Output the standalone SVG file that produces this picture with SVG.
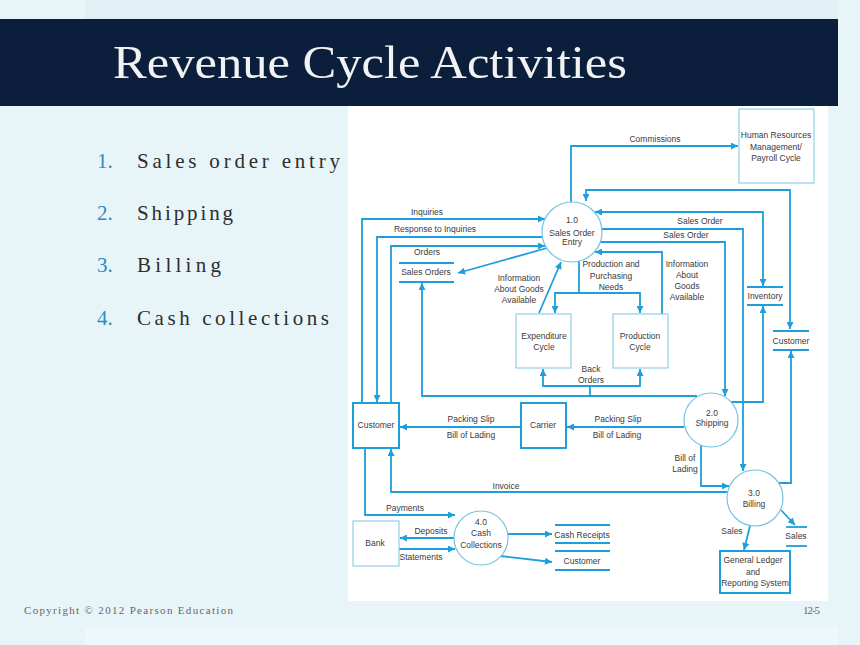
<svg xmlns="http://www.w3.org/2000/svg" width="860" height="645" viewBox="0 0 860 645">
<defs>
<style>
.t{font-family:"Liberation Sans",Arial,sans-serif;font-size:8.5px;fill:#3a3a3a;text-anchor:middle}
.c{fill:none;stroke:#1e9fdb;stroke-width:1.8}
.thin{fill:#fff;stroke:#8fd0e8;stroke-width:1.2}
.thick{fill:#fff;stroke:#1e9fdb;stroke-width:2}
.circ{fill:#fff;stroke:#74c4e2;stroke-width:1.2}
.ds{stroke:#1e9fdb;stroke-width:1.8}
.mono{font-family:"Liberation Serif","Times New Roman",serif}
</style>
<marker id="a" viewBox="0 0 10 10" refX="10" refY="5" markerWidth="9" markerHeight="7" markerUnits="userSpaceOnUse" orient="auto-start-reverse">
<path d="M0,0 L10,5 L0,10 z" fill="#1e9fdb"/>
</marker>
</defs>
<rect x="0" y="0" width="860" height="645" fill="#e8f5f8"/>
<rect x="85" y="0" width="753" height="19" fill="#e2f0f6"/>
<rect x="85" y="627" width="753" height="18" fill="#eef8fa"/>
<rect x="0" y="19" width="838" height="87" fill="#0b1f3c"/>
<text class="mono" x="113" y="78" font-size="46" fill="#f2f2f2" textLength="514" lengthAdjust="spacingAndGlyphs">Revenue Cycle Activities</text>
<g id="bullets" class="mono" font-size="21">
<text x="97" y="168" fill="#2e8bc0">1.</text><text x="137" y="168" fill="#2e2e2e" textLength="203" lengthAdjust="spacing">Sales order entry</text>
<text x="97" y="220" fill="#2e8bc0">2.</text><text x="137" y="220" fill="#2e2e2e" textLength="96" lengthAdjust="spacing">Shipping</text>
<text x="97" y="272" fill="#2e8bc0">3.</text><text x="137" y="272" fill="#2e2e2e" textLength="84" lengthAdjust="spacing">Billing</text>
<text x="97" y="325" fill="#2e8bc0">4.</text><text x="137" y="325" fill="#2e2e2e" textLength="192" lengthAdjust="spacing">Cash collections</text>
</g>
<text class="mono" x="24" y="614" font-size="11" fill="#666" textLength="209" lengthAdjust="spacing">Copyright © 2012  Pearson Education</text>
<text class="mono" x="803" y="614" font-size="11" fill="#666" textLength="17" lengthAdjust="spacing">12-5</text>
<rect x="348" y="106" width="480" height="495" fill="#fff"/>

<g id="connectors">
<path class="c" d="M571,202 V146 H738" marker-end="url(#a)"/>
<path class="c" d="M790,329 V190 H586 V201" marker-start="url(#a)" marker-end="url(#a)"/>
<path class="c" d="M763,286 V212 H595" marker-start="url(#a)" marker-end="url(#a)"/>
<path class="c" d="M601,229 H743 V471" marker-end="url(#a)"/>
<path class="c" d="M600,242 H725 V396" marker-end="url(#a)"/>
<path class="c" d="M579,261 V293 H555 V313" marker-end="url(#a)"/>
<path class="c" d="M579,293 H640 V313" marker-end="url(#a)"/>
<path class="c" d="M662,314 V252 H595" marker-end="url(#a)"/>
<path class="c" d="M539,313 L561,262" marker-end="url(#a)"/>
<path class="c" d="M547,248 L458,273" marker-end="url(#a)"/>
<path class="c" d="M362,403 V219 H545" marker-end="url(#a)"/>
<path class="c" d="M542,237 H377 V402" marker-end="url(#a)"/>
<path class="c" d="M391,403 V246 H545" marker-end="url(#a)"/>
<path class="c" d="M697,396 H422 V283" marker-end="url(#a)"/>
<path class="c" d="M590,396 V386 H543 V369" marker-end="url(#a)"/>
<path class="c" d="M590,386 H640 V369" marker-end="url(#a)"/>
<path class="c" d="M684,427 H567" marker-end="url(#a)"/>
<path class="c" d="M521,427 H400" marker-end="url(#a)"/>
<path class="c" d="M701,445 V486 H729" marker-end="url(#a)"/>
<path class="c" d="M731,402 H763 V306" marker-end="url(#a)"/>
<path class="c" d="M728,492 H391 V449" marker-end="url(#a)"/>
<path class="c" d="M779,483 H791 V351" marker-end="url(#a)"/>
<path class="c" d="M365,448 V515 H455" marker-end="url(#a)"/>
<path class="c" d="M454,538 H400" marker-end="url(#a)"/>
<path class="c" d="M399,549 H455" marker-end="url(#a)"/>
<path class="c" d="M508,534 H552" marker-end="url(#a)"/>
<path class="c" d="M500,556 L552,562" marker-end="url(#a)"/>
<path class="c" d="M750,526 L744,550" marker-end="url(#a)"/>
<path class="c" d="M781,510 L795,525" marker-end="url(#a)"/>
<text class="t" x="655" y="142">Commissions</text>
<text class="t" x="700" y="224">Sales Order</text>
<text class="t" x="686" y="238">Sales Order</text>
<text class="t" x="427" y="215">Inquiries</text>
<text class="t" x="435" y="232">Response to Inquiries</text>
<text class="t" x="427" y="255">Orders</text>
<text class="t" x="519" y="281">Information</text>
<text class="t" x="519" y="292">About Goods</text>
<text class="t" x="519" y="303">Available</text>
<text class="t" x="611" y="267">Production and</text>
<text class="t" x="611" y="279">Purchasing</text>
<text class="t" x="611" y="290">Needs</text>
<text class="t" x="687" y="267">Information</text>
<text class="t" x="687" y="278">About</text>
<text class="t" x="687" y="289">Goods</text>
<text class="t" x="687" y="300">Available</text>
<text class="t" x="591" y="372">Back</text>
<text class="t" x="591" y="383">Orders</text>
<text class="t" x="471" y="422">Packing Slip</text>
<text class="t" x="471" y="438">Bill of Lading</text>
<text class="t" x="618" y="422">Packing Slip</text>
<text class="t" x="617" y="438">Bill of Lading</text>
<text class="t" x="685" y="461">Bill of</text>
<text class="t" x="685" y="472">Lading</text>
<text class="t" x="506" y="489">Invoice</text>
<text class="t" x="405" y="511">Payments</text>
<text class="t" x="431" y="534">Deposits</text>
<text class="t" x="421" y="560">Statements</text>
<text class="t" x="732" y="534">Sales</text>
</g>

<g id="hr"><rect class="thin" x="739" y="109" width="75" height="74"/>
<text class="t" x="776" y="138">Human Resources</text><text class="t" x="776" y="150">Management/</text><text class="t" x="776" y="161">Payroll Cycle</text></g>
<g id="p1"><circle class="circ" cx="572" cy="232" r="30"/>
<text class="t" x="572" y="223">1.0</text><text class="t" x="572" y="236">Sales Order</text><text class="t" x="572" y="245">Entry</text></g>
<g id="p2"><circle class="circ" cx="711" cy="420" r="27"/>
<text class="t" x="712" y="416">2.0</text><text class="t" x="712" y="426">Shipping</text></g>
<g id="p3"><circle class="circ" cx="755" cy="498" r="28"/>
<text class="t" x="754" y="496">3.0</text><text class="t" x="754" y="507">Billing</text></g>
<g id="p4"><circle class="circ" cx="481" cy="538" r="27"/>
<text class="t" x="481" y="525">4.0</text><text class="t" x="481" y="536">Cash</text><text class="t" x="481" y="548">Collections</text></g>
<g id="expenditure"><rect class="thin" x="516" y="314" width="55" height="54"/>
<text class="t" x="544" y="339">Expenditure</text><text class="t" x="544" y="350">Cycle</text></g>
<g id="production"><rect class="thin" x="613" y="314" width="55" height="54"/>
<text class="t" x="640" y="339">Production</text><text class="t" x="640" y="350">Cycle</text></g>
<g id="customer-ent"><rect class="thick" x="353" y="403" width="46" height="45"/>
<text class="t" x="376" y="428">Customer</text></g>
<g id="carrier"><rect class="thick" x="521" y="403" width="45" height="45"/>
<text class="t" x="543" y="428">Carrier</text></g>
<g id="bank"><rect class="thin" x="353" y="521" width="46" height="45"/>
<text class="t" x="375" y="546">Bank</text></g>
<g id="gl"><rect class="thick" x="720" y="551" width="70" height="42"/>
<text class="t" x="753" y="563">General Ledger</text><text class="t" x="753" y="575">and</text><text class="t" x="755" y="586">Reporting System</text></g>
<g id="ds-salesorders"><line class="ds" x1="399" y1="263" x2="454" y2="263"/><line class="ds" x1="399" y1="282" x2="454" y2="282"/>
<text class="t" x="426" y="275">Sales Orders</text></g>
<g id="ds-inventory"><line class="ds" x1="747" y1="287" x2="783" y2="287"/><line class="ds" x1="747" y1="305" x2="783" y2="305"/>
<text class="t" x="765" y="299">Inventory</text></g>
<g id="ds-customer"><line class="ds" x1="773" y1="331" x2="809" y2="331"/><line class="ds" x1="773" y1="350" x2="809" y2="350"/>
<text class="t" x="791" y="344">Customer</text></g>
<g id="ds-cashreceipts"><line class="ds" x1="555" y1="525" x2="610" y2="525"/><line class="ds" x1="555" y1="543" x2="610" y2="543"/>
<text class="t" x="582" y="538">Cash Receipts</text></g>
<g id="ds-customer2"><line class="ds" x1="555" y1="551" x2="610" y2="551"/><line class="ds" x1="555" y1="570" x2="610" y2="570"/>
<text class="t" x="582" y="564">Customer</text></g>
<g id="ds-sales"><line class="ds" x1="786" y1="527" x2="807" y2="527"/><line class="ds" x1="786" y1="546" x2="807" y2="546"/>
<text class="t" x="796" y="539">Sales</text></g>
</svg>
